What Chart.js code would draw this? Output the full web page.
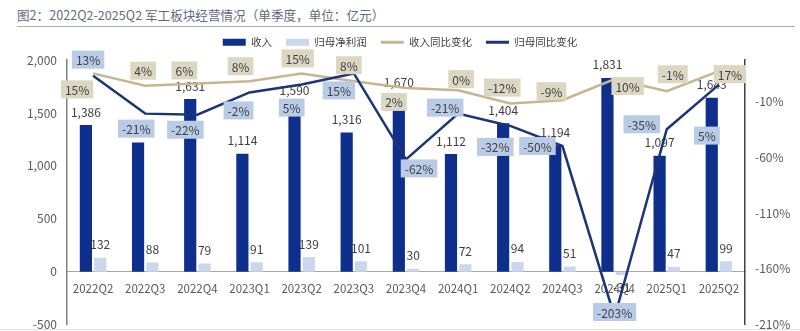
<!DOCTYPE html>
<html>
<head>
    <title>军工板块经营情况</title>
    <meta charset="utf-8">
    <script src="https://cdn.jsdelivr.net/npm/chart.js"></script>
    <style>
        html, body {
            margin: 0;
            background: #fff;
            overflow: hidden;
            font-family: "Noto Sans CJK SC", sans-serif;
        }

        #title {
            position: absolute;
            left: 17px;
            top: 3px;
            width: 778px;
            height: 23px;
            line-height: 23px;
            font-size: 12.6px;
            color: #5f6c7c;
            border-bottom: 1px solid #a9b0b8;
        }

        #chart-container {
            position: absolute;
            left: 0;
            top: 23px;
            width: 800px;
            height: 319px;
        }

        #bottom-line {
            position: absolute;
            left: 0;
            top: 329px;
            width: 800px;
            height: 1px;
            background: #dde3ea;
        }
    </style>
</head>
<body>
    <div id="title">图2：2022Q2-2025Q2 军工板块经营情况（单季度，单位：亿元）</div>
    <div id="chart-container">
        <canvas id="ops"></canvas>
    </div>
    <div id="bottom-line"></div>
    <script>
        // quarters
        var quarters = ['2022Q2', '2022Q3', '2022Q4', '2023Q1', '2023Q2', '2023Q3', '2023Q4',
            '2024Q1', '2024Q2', '2024Q3', '2024Q4', '2025Q1', '2025Q2'];

        // 收入 / 归母净利润 (亿元)
        var revenue = [1386, 1222, 1631, 1114, 1590, 1316, 1670, 1112, 1404, 1194, 1831, 1097, 1643];
        var netProfit = [132, 88, 79, 91, 139, 101, 30, 72, 94, 51, -31, 47, 99];

        // 同比变化 (%)
        var revenueYoY = [15, 4, 6, 8, 15, 8, 2, 0, -12, -9, 10, -1, 17];
        var profitYoY = [13, -21, -22, -2, 5, 15, -62, -21, -32, -50, -203, -35, 5];

        // axis ticks
        var leftTicks = [-500, 0, 500, 1000, 1500, 2000];
        var rightTicks = [-210, -160, -110, -60, -10];

        // where each % box sits relative to its point [dx, dy]
        var revenueYoYOffsets = [[-16, 16], [-2, -15], [-13, -13], [-9, -15], [-4, -15], [-5, -16], [-12, 14],
            [3, -11], [-8, -16], [-11, -9], [13, 7], [6, -17], [11, 3]];
        var profitYoYOffsets = [[-5, -16], [-9, 15], [-12, 15], [-11, 18], [-10, 23], [-15, 17], [13, 9],
            [-13, -6], [-15, 21], [-25, 0], [0, -5], [-25, -5], [-12, 51]];

        var FONT = '"Noto Sans CJK SC", sans-serif';
        var TEXT = '#404040';

        function fmt(v) {
            return v.toLocaleString('en-US');
        }

        // push the plot area down below the legend
        var legendSpace = {
            id: 'legendSpace',
            beforeInit: function (chart) {
                var fit = chart.legend.fit;
                chart.legend.fit = function () {
                    fit.bind(chart.legend)();
                    this.height = 37;
                };
            }
        };

        function drawBox(ctx, text, cx, cy, bg) {
            var w = ctx.measureText(text).width + 8;
            var h = 18;
            ctx.fillStyle = bg;
            ctx.fillRect(cx - w / 2, cy - h / 2, w, h);
            ctx.fillStyle = TEXT;
            ctx.fillText(text, cx, cy + 1);
        }

        var labels = {
            id: 'labels',
            afterDatasetDraw: function (chart, args) {
                var ds = chart.data.datasets[args.index];
                if (ds.type !== 'bar') return;
                var ctx = chart.ctx;
                ctx.save();
                ctx.font = '12px ' + FONT;
                ctx.fillStyle = TEXT;
                ctx.textAlign = 'center';
                ctx.textBaseline = 'middle';
                args.meta.data.forEach(function (bar, i) {
                    var v = ds.data[i];
                    var y = v >= 0 ? bar.y - 13 : bar.y + 12;
                    ctx.fillText(fmt(v), bar.x, y);
                });
                ctx.restore();
            },
            afterDatasetsDraw: function (chart) {
                var ctx = chart.ctx;
                ctx.save();
                ctx.font = '12px ' + FONT;
                ctx.textAlign = 'center';
                ctx.textBaseline = 'middle';
                var revMeta = chart.getDatasetMeta(2);
                var profMeta = chart.getDatasetMeta(3);
                revMeta.data.forEach(function (pt, i) {
                    var o = revenueYoYOffsets[i];
                    drawBox(ctx, revenueYoY[i] + '%', pt.x + o[0], pt.y + o[1], '#dcd7c2');
                });
                profMeta.data.forEach(function (pt, i) {
                    var o = profitYoYOffsets[i];
                    drawBox(ctx, profitYoY[i] + '%', pt.x + o[0], pt.y + o[1], '#b9cbe6');
                });
                ctx.restore();
            }
        };

        var ctx = document.getElementById('ops').getContext('2d');
        var opsChart = new Chart(ctx, {
            data: {
                labels: quarters,
                datasets: [{
                    type: 'bar',
                    label: '收入',
                    data: revenue,
                    yAxisID: 'y',
                    backgroundColor: '#0e2f8c',
                    categoryPercentage: 0.55,
                    barPercentage: 0.85,
                    order: 2
                }, {
                    type: 'bar',
                    label: '归母净利润',
                    data: netProfit,
                    yAxisID: 'y',
                    backgroundColor: '#cbd7ec',
                    categoryPercentage: 0.55,
                    barPercentage: 0.85,
                    order: 2
                }, {
                    type: 'line',
                    label: '收入同比变化',
                    data: revenueYoY,
                    yAxisID: 'y1',
                    borderColor: '#c5b691',
                    borderWidth: 2.5,
                    pointRadius: 0,
                    order: 1
                }, {
                    type: 'line',
                    label: '归母同比变化',
                    data: profitYoY,
                    yAxisID: 'y1',
                    borderColor: '#1c3577',
                    borderWidth: 2.5,
                    pointRadius: 0,
                    order: 0
                }]
            },
            options: {
                responsive: true,
                maintainAspectRatio: false,
                animation: false,
                layout: {
                    padding: { left: 0, right: 0, top: 0, bottom: 7 }
                },
                plugins: {
                    tooltip: { enabled: false },
                    legend: {
                        position: 'top',
                        labels: {
                            usePointStyle: true,
                            pointStyleWidth: 23,
                            boxHeight: 7,
                            padding: 14,
                            color: TEXT,
                            font: { family: FONT, size: 10.5 },
                            generateLabels: function (chart) {
                                return chart.data.datasets.map(function (ds, i) {
                                    var isBar = ds.type === 'bar';
                                    var c = isBar ? ds.backgroundColor : ds.borderColor;
                                    return {
                                        text: ds.label,
                                        datasetIndex: i,
                                        fillStyle: c,
                                        strokeStyle: c,
                                        lineWidth: isBar ? 0 : 3,
                                        pointStyle: isBar ? 'rect' : 'line',
                                        fontColor: TEXT,
                                        hidden: false
                                    };
                                });
                            }
                        }
                    }
                },
                scales: {
                    x: {
                        type: 'category',
                        position: { y: 0 },
                        offset: true,
                        grid: { display: false, drawTicks: false },
                        border: { display: true, color: '#a6a6a6', width: 1 },
                        ticks: {
                            color: '#595959',
                            font: { family: FONT, size: 11.5 },
                            padding: 10,
                            maxRotation: 0,
                            autoSkip: false
                        }
                    },
                    y: {
                        position: 'left',
                        min: -500,
                        max: 2000,
                        afterBuildTicks: function (scale) {
                            scale.ticks = leftTicks.map(function (v) { return { value: v }; });
                        },
                        afterFit: function (scale) {
                            scale.width = 67;
                        },
                        grid: { display: false, drawTicks: false },
                        border: { display: true, color: '#7f7f7f', width: 1.5 },
                        ticks: {
                            color: '#595959',
                            font: { family: FONT, size: 12 },
                            padding: 10,
                            callback: function (v) { return fmt(v); }
                        }
                    },
                    y1: {
                        position: 'right',
                        min: -210,
                        max: 27,
                        afterBuildTicks: function (scale) {
                            scale.ticks = rightTicks.map(function (v) { return { value: v }; });
                        },
                        afterFit: function (scale) {
                            scale.width = 55;
                        },
                        grid: { display: false, drawTicks: false },
                        border: { display: true, color: '#404040', width: 1.5 },
                        ticks: {
                            color: '#595959',
                            font: { family: FONT, size: 12 },
                            padding: 10,
                            callback: function (v) { return v + '%'; }
                        }
                    }
                }
            },
            plugins: [legendSpace, labels]
        });
    </script>
</body>
</html>
